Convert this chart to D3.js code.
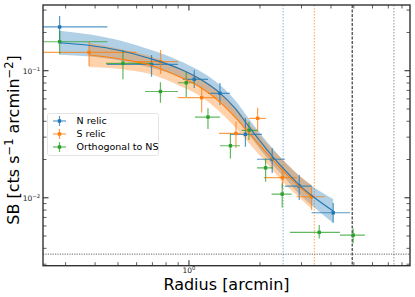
<!DOCTYPE html>
<html><head><meta charset="utf-8">
<script src="https://cdn.jsdelivr.net/npm/d3@7"></script>
<style>body{margin:0;background:#fff}svg{display:block}text{font-family:"DejaVu Sans",sans-serif}</style>
</head><body><svg id="c" width="415" height="297"></svg>
<script>
// ---- data ----
const seriesNames = ["N relic", "S relic", "Orthogonal to NS"];
const seriesColors = ["#1f77b4", "#ff7f0e", "#2ca02c"];
// points: [x, xlo, xhi, y, ylo, yhi]
const nRelic = [
  [0.283,0.115,0.451,0.221,0.172,0.270],
  [0.694,0.448,0.898,0.112,0.0897,0.133],
  [1.053,0.943,1.204,0.0856,0.0731,0.1013],
  [1.353,1.204,1.492,0.0664,0.0537,0.080],
  [1.735,1.492,2.039,0.0316,0.0252,0.0425],
  [2.254,1.942,2.551,0.0201,0.01565,0.0246],
  [2.934,2.551,3.311,0.01236,0.0096,0.0151],
  [4.088,3.311,4.811,0.00762,0.00635,0.00908]
];
const sRelic = [
  [0.377,0.156,0.598,0.1396,0.1089,0.169],
  [0.758,0.598,0.898,0.1177,0.0942,0.1456],
  [1.132,0.898,1.310,0.0613,0.0470,0.0748],
  [1.582,1.340,1.660,0.0321,0.0246,0.0397],
  [1.955,1.796,2.120,0.0422,0.0331,0.0511],
  [2.490,2.080,2.860,0.01443,0.01193,0.01754],
  [3.311,2.860,3.770,0.01019,0.0080,0.01222]
];
const orthoNS = [
  [0.283,0.115,0.451,0.169,0.1346,0.2054],
  [0.525,0.445,0.694,0.1144,0.0856,0.1456],
  [0.757,0.651,0.898,0.0686,0.0560,0.0810],
  [0.974,0.898,1.060,0.0804,0.0621,0.0977],
  [1.204,1.060,1.353,0.0432,0.0348,0.0506],
  [1.499,1.353,1.645,0.02567,0.0204,0.0321],
  [1.796,1.672,1.950,0.0339,0.0285,0.0397],
  [2.113,1.942,2.276,0.0172,0.01337,0.0204],
  [2.485,2.241,2.724,0.0107,0.0084,0.01298],
  [3.566,2.679,4.363,0.00534,0.00479,0.0061],
  [4.968,4.363,5.569,0.00508,0.00438,0.00574]
];
// model curves: [x, y, lo, hi]
const nModel = [
  [0.283,0.1661,0.1336,0.2065],[0.381,0.1579,0.1293,0.1928],[0.510,0.1442,0.1203,0.1729],
  [0.683,0.1248,0.1060,0.1469],[0.916,0.1031,0.0892,0.1192],[1.113,0.0860,0.0744,0.0994],
  [1.353,0.0667,0.0577,0.0771],[1.566,0.0508,0.0439,0.0587],[1.735,0.0395,0.0342,0.0457],
  [1.999,0.0280,0.0242,0.0323],[2.254,0.0213,0.0184,0.0246],[2.551,0.01652,0.01429,0.01910],
  [2.934,0.01259,0.01069,0.01482],[3.420,0.00995,0.00830,0.01193],[4.088,0.00786,0.00632,0.00977]
];
const sModel = [
  [0.377,0.1329,0.1069,0.1652],[0.510,0.1237,0.1032,0.1483],[0.683,0.1109,0.0942,0.1306],
  [0.916,0.0892,0.0758,0.1050],[1.113,0.0744,0.0632,0.0876],[1.353,0.0567,0.0473,0.0680],
  [1.582,0.0424,0.0354,0.0508],[1.814,0.0317,0.0264,0.0380],[2.099,0.0233,0.0194,0.0279],
  [2.490,0.0165,0.01352,0.0201],[2.860,0.01282,0.01050,0.01565],[3.311,0.01013,0.00815,0.01259]
];
const vLines = [2.51, 3.40, 4.92, 7.39];
const hLine = 0.0036;
const xDomain = [0.2406, 8.65];
const yDomain = [0.00292, 0.329];
const xTickLabels = [{v:1, base:"10", exp:"0"}];
const yTickLabels = [{v:0.1, base:"10", exp:"−1"}, {v:0.01, base:"10", exp:"−2"}];

// ---- layout ----
const L = 43, R = 410, T = 5, B = 265.7;
const svg = d3.select("#c");
const x = d3.scaleLog().domain(xDomain).range([L, R]);
const y = d3.scaleLog().domain(yDomain).range([B, T]);

svg.append("defs").append("clipPath").attr("id","clip")
  .append("rect").attr("x",L).attr("y",T).attr("width",R-L).attr("height",B-T);
const g = svg.append("g").attr("clip-path","url(#clip)");

// reference lines
const vStyles = [
  {c:"#1f77b4", o:0.35, w:1.5, d:"1.5,1.5"},
  {c:"#ff7f0e", o:0.7, w:1, d:"1.5,1.5"},
  {c:"#000", o:0.85, w:1.1, d:"3,1.5"},
  {c:"#888", o:0.6, w:1.5, d:"1.5,1.5"}
];
vLines.forEach((v,i)=>{
  const s = vStyles[i];
  g.append("line").attr("x1",x(v)).attr("x2",x(v)).attr("y1",T).attr("y2",B)
    .attr("stroke",s.c).attr("stroke-opacity",s.o).attr("stroke-width",s.w).attr("stroke-dasharray",s.d);
});
g.append("line").attr("x1",L).attr("x2",R).attr("y1",y(hLine)).attr("y2",y(hLine))
  .attr("stroke","#555").attr("stroke-width",0.9).attr("stroke-dasharray","1.2,1.2");

// bands
const area = d3.area().x(d=>x(d[0])).y0(d=>y(d[2])).y1(d=>y(d[3])).curve(d3.curveMonotoneX);
const line = d3.line().x(d=>x(d[0])).y(d=>y(d[1])).curve(d3.curveMonotoneX);
g.append("path").datum(nModel).attr("d",area).attr("fill",seriesColors[0]).attr("fill-opacity",0.35);
g.append("path").datum(sModel).attr("d",area).attr("fill",seriesColors[1]).attr("fill-opacity",0.35);

// error bars
function drawSeries(data, color){
  const s = g.append("g");
  data.forEach(d=>{
    s.append("line").attr("x1",x(d[1])).attr("x2",x(d[2])).attr("y1",y(d[3])).attr("y2",y(d[3]))
      .attr("stroke",color).attr("stroke-width",1.2).attr("stroke-opacity",0.75);
    s.append("line").attr("x1",x(d[0])).attr("x2",x(d[0])).attr("y1",y(d[4])).attr("y2",y(d[5]))
      .attr("stroke",color).attr("stroke-width",1.2).attr("stroke-opacity",0.75);
    s.append("rect").attr("x",x(d[0])-1.7).attr("y",y(d[3])-1.7).attr("width",3.4).attr("height",3.4)
      .attr("fill",color);
  });
}
drawSeries(nRelic, seriesColors[0]);
drawSeries(sRelic, seriesColors[1]);
drawSeries(orthoNS, seriesColors[2]);

g.append("path").datum(nModel).attr("d",line).attr("fill","none").attr("stroke",seriesColors[0]).attr("stroke-width",1.1);
g.append("path").datum(sModel).attr("d",line).attr("fill","none").attr("stroke",seriesColors[1]).attr("stroke-width",1.1);

// axes (inward ticks on all sides)
const xMajor = [1], xMinor = [0.3,0.4,0.5,0.6,0.7,0.8,0.9,2,3,4,5,6,7,8];
const yMajor = [0.01, 0.1], yMinor = [0.003,0.004,0.005,0.006,0.007,0.008,0.009,0.02,0.03,0.04,0.05,0.06,0.07,0.08,0.09,0.2,0.3];
const ax = svg.append("g").attr("stroke","#333");
function xt(v, len, w){
  ax.append("line").attr("x1",x(v)).attr("x2",x(v)).attr("y1",B).attr("y2",B-len).attr("stroke-width",w);
  ax.append("line").attr("x1",x(v)).attr("x2",x(v)).attr("y1",T).attr("y2",T+len).attr("stroke-width",w);
}
function yt(v, len, w){
  ax.append("line").attr("y1",y(v)).attr("y2",y(v)).attr("x1",L).attr("x2",L+len).attr("stroke-width",w);
  ax.append("line").attr("y1",y(v)).attr("y2",y(v)).attr("x1",R).attr("x2",R-len).attr("stroke-width",w);
}
xMinor.forEach(v=>xt(v,3.5,0.8)); xMajor.forEach(v=>xt(v,5.5,1.1));
yMinor.forEach(v=>yt(v,3.5,0.8)); yMajor.forEach(v=>yt(v,5.5,1.1));
svg.append("rect").attr("x",L).attr("y",T).attr("width",R-L).attr("height",B-T)
  .attr("fill","none").attr("stroke","#333").attr("stroke-width",1.4);

// tick labels
xTickLabels.forEach(t=>{
  const tx = svg.append("text").attr("x",x(t.v)).attr("y",B+7.5).attr("text-anchor","middle")
    .attr("font-size",7.5).attr("fill","#222");
  tx.append("tspan").text(t.base);
  tx.append("tspan").attr("dy",-3).attr("font-size",5.3).text(t.exp);
});
yTickLabels.forEach(t=>{
  const tx = svg.append("text").attr("x",40).attr("y",y(t.v)+2.8).attr("text-anchor","end")
    .attr("font-size",7.5).attr("fill","#222");
  tx.append("tspan").text(t.base);
  tx.append("tspan").attr("dy",-3).attr("font-size",5.3).text(t.exp);
});

// axis labels
svg.append("text").attr("x",(L+R)/2).attr("y",290).attr("text-anchor","middle")
  .attr("font-size",16).attr("fill","#000").text("Radius [arcmin]");
const yl = svg.append("text").attr("transform","translate(18.5,140) rotate(-90)").attr("text-anchor","middle")
  .attr("font-size",16).attr("fill","#000");
yl.append("tspan").text("SB [cts s");
yl.append("tspan").attr("dy",-6).attr("font-size",11.5).text("−1");
yl.append("tspan").attr("dy",6).text(" arcmin");
yl.append("tspan").attr("dy",-6).attr("font-size",11.5).text("−2");
yl.append("tspan").attr("dy",6).text("]");

// legend
const lg = svg.append("g");
lg.append("rect").attr("x",47.5).attr("y",113.5).attr("width",111).attr("height",42).attr("rx",2)
  .attr("fill","#fff").attr("fill-opacity",0.85).attr("stroke","#ddd").attr("stroke-width",0.8);
seriesNames.forEach((n,i)=>{
  const cy = 121 + i*13, c = seriesColors[i];
  lg.append("line").attr("x1",53).attr("x2",66).attr("y1",cy).attr("y2",cy).attr("stroke",c).attr("stroke-width",1.2).attr("stroke-opacity",0.75);
  lg.append("line").attr("x1",59.5).attr("x2",59.5).attr("y1",cy-5).attr("y2",cy+5).attr("stroke",c).attr("stroke-width",1.2).attr("stroke-opacity",0.75);
  lg.append("rect").attr("x",59.5-1.7).attr("y",cy-1.7).attr("width",3.4).attr("height",3.4).attr("fill",c);
  lg.append("text").attr("x",76.5).attr("y",cy+3.4).attr("font-size",9.5).attr("fill","#000").text(n);
});
</script></body></html>
